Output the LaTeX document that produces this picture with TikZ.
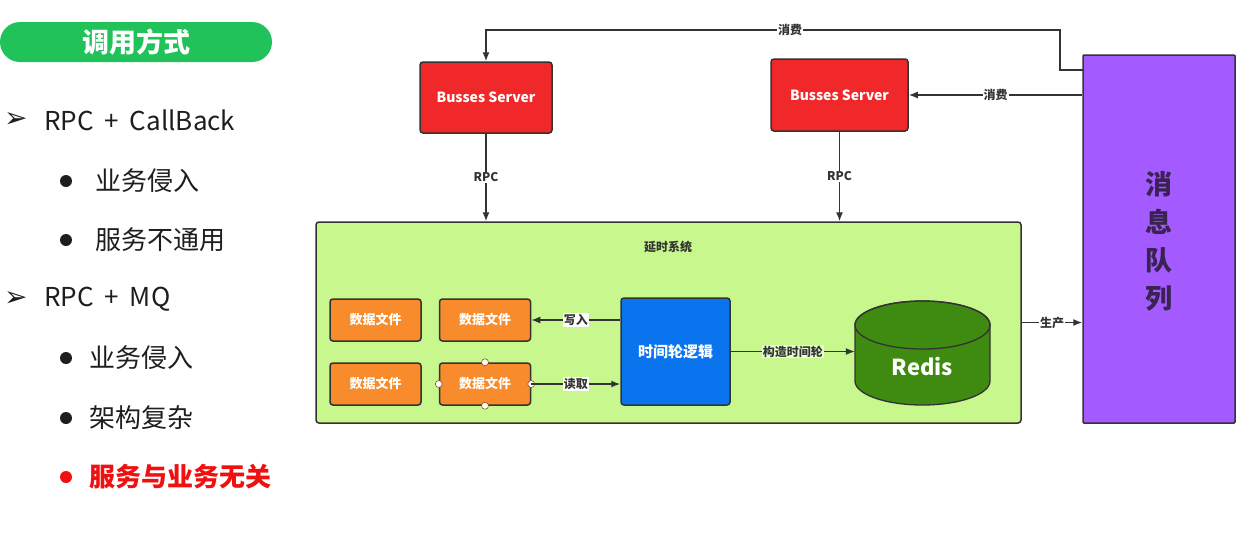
\documentclass[tikz,border=0pt]{standalone}
\usepackage{fontspec}
\setmainfont{Noto Sans CJK SC}
\newfontfamily\dejavu{DejaVu Sans}
\usetikzlibrary{arrows.meta}
\definecolor{pillgreen}{HTML}{22C25A}
\definecolor{bsred}{HTML}{F0282A}
\definecolor{sysgreen}{HTML}{C8F78E}
\definecolor{fileorange}{HTML}{F88B2C}
\definecolor{logicblue}{HTML}{0A74EE}
\definecolor{redisgreen}{HTML}{3F8A10}
\definecolor{mqpurple}{HTML}{A35BFF}
\definecolor{mqtext}{HTML}{3A2350}
\definecolor{edgec}{HTML}{333333}
\definecolor{txt}{HTML}{1E1E1E}
\definecolor{hired}{HTML}{F01010}
\newcommand{\fsz}[1]{\fontsize{#1}{#1}\selectfont}
\newcommand{\gap}{\hspace{0.42em}}
\begin{document}
\begin{tikzpicture}[x=1pt,y=-1pt,
  box/.style={draw=edgec, line width=1.5pt, rounded corners=3pt, inner sep=0pt},
  conn/.style={draw=edgec, line width=1.3pt, -{Latex[length=9pt,width=7pt]}},
  lbl/.style={fill=white, inner sep=1pt, text=edgec, font=\fsz{12}\bfseries},
  lbltr/.style={inner sep=1pt, text=edgec, font=\fsz{12}\bfseries},
  item/.style={anchor=west, inner sep=0pt, text=txt, font=\fsz{26}},
  dot/.style={fill=txt, draw=none},
  handle/.style={fill=white, draw=fileorange!60!black, line width=0.6pt}
]
\useasboundingbox[fill=white] (0,0) rectangle (1259,547);

% ---------- left panel ----------
\node[fill=pillgreen, rounded corners=20pt, minimum width=272pt, minimum height=40pt,
      inner sep=0pt, text=white, font=\fsz{27}\bfseries] (pill) at (136,42) {调用方式};

\node[item, font=\dejavu\fsz{28}] (ar1) at (4,120) {➢};
\node[item] (t1) at (44,120) {RPC\gap+\gap CallBack};
\fill[dot] (66,181) circle (6pt); \node[item] (t2) at (95,181) {业务侵入};
\fill[dot] (66,240) circle (6pt); \node[item] (t3) at (95,240) {服务不通用};
\node[item, font=\dejavu\fsz{28}] (ar2) at (4,299) {➢};
\node[item] (t4) at (44,299) {RPC\gap+\gap MQ};
\fill[dot] (66,358) circle (6pt); \node[item] (t5) at (89,358) {业务侵入};
\fill[dot] (66,418) circle (6pt); \node[item] (t6) at (89,418) {架构复杂};
\fill[hired] (66,477) circle (6pt); \node[item, text=hired, font=\fsz{26}\bfseries] (t7) at (89,477) {服务与业务无关};

% ---------- diagram ----------
\node[box, fill=bsred, minimum width=132pt, minimum height=71pt, text=white, font=\fsz{14}\bfseries] (bs1) at (486,97.5) {Busses Server};
\node[box, fill=bsred, minimum width=137pt, minimum height=72pt, text=white, font=\fsz{14}\bfseries] (bs2) at (839.5,95) {Busses Server};

\node[box, fill=sysgreen, minimum width=705pt, minimum height=201pt] (sys) at (668.5,322.5) {};
\node[lbltr] (syslbl) at (668,247) {延时系统};

\tikzset{file/.style={box, fill=fileorange, minimum width=91pt, minimum height=42pt, text=white, font=\fsz{13}\bfseries}}
\node[file] (f1) at (375.5,320) {数据文件};
\node[file] (f2) at (485,320) {数据文件};
\node[file] (f3) at (375.5,384) {数据文件};
\node[file] (f4) at (485,384) {数据文件};
\foreach \a in {north,south,east,west} \draw[handle] (f4.\a) circle (3.5pt);

\node[box, fill=logicblue, minimum width=109pt, minimum height=107pt, text=white, font=\fsz{15}\bfseries] (logic) at (675.5,351.5) {时间轮逻辑};

% Redis cylinder
\node[inner sep=0pt, minimum width=135pt, minimum height=104pt] (redis) at (922.5,353) {};
\draw[fill=redisgreen, draw=edgec, line width=1.3pt]
  (855,325) -- (855,381) arc[start angle=180, end angle=360, x radius=67.5pt, y radius=24pt]
  -- (990,325) arc[start angle=0, end angle=180, x radius=67.5pt, y radius=24pt] -- cycle;
\draw[draw=edgec, line width=1.3pt] (922.5,325) ellipse[x radius=67.5pt, y radius=24pt];
\node[text=white, font=\fsz{22}\bfseries] (redistxt) at (922.5,367) {Redis};

\node[box, rounded corners=1pt, fill=mqpurple, minimum width=152pt, minimum height=368pt] (mq) at (1159,239) {};
\node[align=center, text=mqtext, font=\fontsize{27}{38}\selectfont\bfseries] (mqtxt) at (1159,241) {消\\息\\队\\列};

% connectors
\draw[conn] (bs1.south) -- node[lbl]{RPC} (bs1.south |- sys.north);
\draw[conn] (bs2.south) -- node[lbl]{RPC} (bs2.south |- sys.north);
\draw[conn] (logic.west |- f2.east) -- node[lbl]{写入} (f2.east);
\draw[conn] (f4.east) -- node[lbl]{读取} (f4.east -| logic.west);
\draw[conn] (logic.east) -- node[lbl, fill=sysgreen!40!white]{构造时间轮} (logic.east -| redis.west);
\draw[conn] (sys.east) -- node[lbl]{生产} (sys.east -| mq.west);
\draw[conn] (mq.west |- bs2.east) -- node[lbl]{消费} (bs2.east);
\coordinate (k0) at (1083,70);
\coordinate (k1) at (1060,30);
\draw[conn] (k0) -| (k1) -- node[lbl, pos=0.47]{消费} (k1 -| bs1.north) -- (bs1.north);
\end{tikzpicture}
\end{document}
